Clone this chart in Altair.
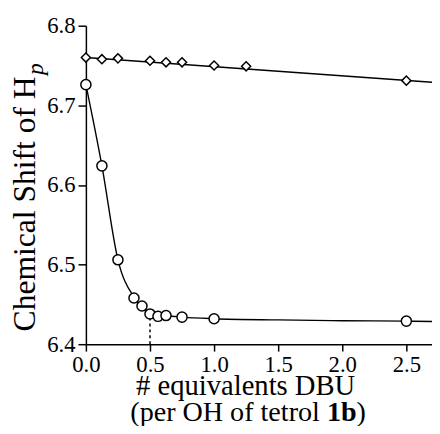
import altair as alt
import pandas as pd

# Diamond series (upper)
diamond_x = [0.0, 0.125, 0.25, 0.5, 0.625, 0.75, 1.0, 1.25, 2.5]
diamond_y = [6.760, 6.758, 6.759, 6.756, 6.754, 6.754, 6.750, 6.749, 6.731]
# linear fit of diamond series
diamond_fit_x = [0.0, 2.7]
diamond_fit_y = [6.760, 6.729]

# Circle series (titration curve)
circle_x = [0.0, 0.125, 0.25, 0.375, 0.4375, 0.5, 0.5625, 0.625, 0.75, 1.0, 2.5]
circle_y = [6.726, 6.624, 6.506, 6.458, 6.448, 6.438, 6.435, 6.436, 6.434, 6.432, 6.429]
# smooth fitted curve through circle series
circle_fit_x = [0.0, 0.125, 0.25, 0.375, 0.5, 0.625, 0.75, 1.0, 1.5, 2.0, 2.5, 2.7]
circle_fit_y = [6.726, 6.624, 6.506, 6.459, 6.440, 6.436, 6.434, 6.432, 6.4305, 6.4295, 6.429, 6.4285]

# dotted marker at the equivalence point
equiv_x = [0.5]
equiv_y = [6.4]
equiv_y2 = [6.438]

x_ticks = [0.0, 0.5, 1.0, 1.5, 2.0, 2.5]
y_ticks = [6.4, 6.5, 6.6, 6.7, 6.8]

y_title_main = "Chemical Shift of H"
y_title_sub = "p"
x_title_1 = "# equivalents DBU"
x_title_2a = "(per OH of tetrol"
x_title_2b = "1b"
x_title_2c = ")"

FONT = "Liberation Serif, Times New Roman, serif"

x_scale = alt.Scale(domain=[0, 2.7], nice=False, zero=False)
y_scale = alt.Scale(domain=[6.4, 6.8], nice=False, zero=False)

common_axis = dict(
    title=None, grid=False, format=".1f",
    labelFont=FONT, labelFontSize=23, labelColor="black",
    domainColor="black", domainWidth=1.5, tickColor="black", tickWidth=1.5,
    labelFlush=False, labelOverlap=False,
)
x_axis = alt.Axis(values=x_ticks, tickSize=7, labelPadding=3, **common_axis)
y_axis = alt.Axis(values=y_ticks, tickSize=8, labelPadding=3, **common_axis)


def xy(xf, yf):
    return dict(
        x=alt.X(f"{xf}:Q", scale=x_scale, axis=x_axis),
        y=alt.Y(f"{yf}:Q", scale=y_scale, axis=y_axis),
    )


d_fit = alt.Chart(pd.DataFrame({"x": diamond_fit_x, "y": diamond_fit_y})).mark_line(
    color="black", strokeWidth=1.4).encode(**xy("x", "y"))

c_fit = alt.Chart(pd.DataFrame({"x": circle_fit_x, "y": circle_fit_y})).mark_line(
    color="black", strokeWidth=1.4, interpolate="monotone").encode(**xy("x", "y"))

equiv = alt.Chart(pd.DataFrame({"x": equiv_x, "y": equiv_y, "y2": equiv_y2})).mark_rule(
    color="black", strokeWidth=1.5, strokeDash=[3, 3]).encode(
    **xy("x", "y"), y2="y2:Q")

d_pts = alt.Chart(pd.DataFrame({"x": diamond_x, "y": diamond_y})).mark_point(
    shape="diamond", size=85, filled=True, fill="white", stroke="black",
    strokeWidth=1.5, opacity=1).encode(**xy("x", "y"))

c_pts = alt.Chart(pd.DataFrame({"x": circle_x, "y": circle_y})).mark_point(
    shape="circle", size=105, filled=True, fill="white", stroke="black",
    strokeWidth=1.5, opacity=1).encode(**xy("x", "y"))


def label(txt, x, y, size, angle=0, align="left", weight="normal", style="normal"):
    return alt.Chart(pd.DataFrame({"t": [txt]})).mark_text(
        font=FONT, fontSize=size, angle=angle, align=align, baseline="alphabetic",
        fontWeight=weight, fontStyle=style, color="black").encode(
        x=alt.value(x), y=alt.value(y), text="t:N")


yt_main = label(y_title_main, -52, 310, 32, angle=270)
yt_sub = label(y_title_sub, -43, 50, 24, angle=270, style="italic")
xt1 = label(x_title_1, 162, 375, 29, align="center")
xt2a = label(x_title_2a, 45, 401, 28.5)
xt2b = label(x_title_2b, 244.4, 401, 28.5, weight="bold")
xt2c = label(x_title_2c, 274.5, 401, 28.5)

chart = alt.layer(
    d_fit, c_fit, equiv, d_pts, c_pts, yt_main, yt_sub, xt1, xt2a, xt2b, xt2c
).properties(
    width=351, height=323,
    autosize=alt.AutoSizeParams(type="none"),
    padding={"left": 79, "top": 15, "right": 0, "bottom": 80},
).configure_view(strokeWidth=0)

chart.save("out.html", embed_options={"renderer": "svg", "actions": False})
